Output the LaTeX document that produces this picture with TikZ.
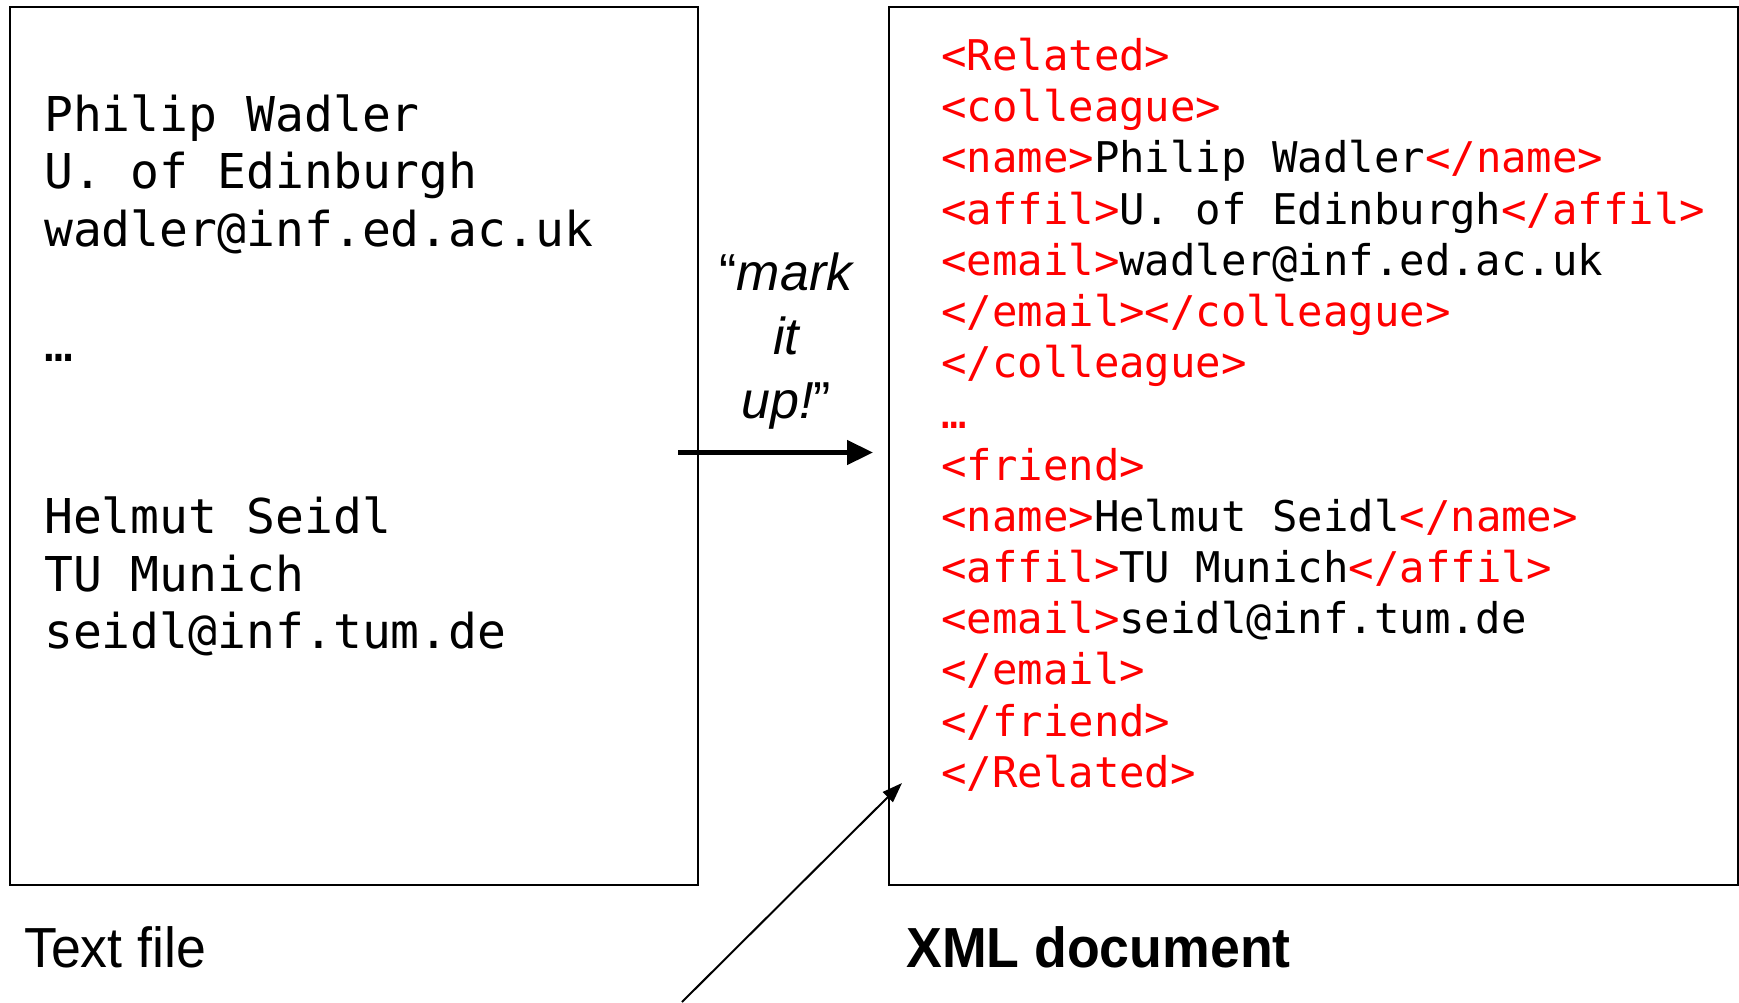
\documentclass[tikz,border=0pt]{standalone}
\usepackage{fontspec}
\setmainfont{Liberation Sans}
\newfontfamily\monofam{DejaVu Sans Mono}
\newfontfamily\labelfam[FakeStretch=0.95]{Liberation Sans}
\usetikzlibrary{arrows.meta}
\newcommand\tg[1]{\textcolor{red}{#1}}
\tikzset{
  box/.style={draw, line width=2pt, inner sep=0pt, anchor=north west},
  plainline/.style={anchor=base west, inner sep=0pt, font=\monofam\fontsize{48}{57.5}\selectfont},
  xmlline/.style={anchor=base west, inner sep=0pt, font=\monofam\fontsize{42.3}{51.2}\selectfont},
  caption/.style={anchor=base west, inner sep=0pt, font=\labelfam\fontsize{56.5}{60}\selectfont},
}
\begin{document}
\begin{tikzpicture}[x=1pt,y=-1pt]
\useasboundingbox (0,0) rectangle (1739,1002);
% boxes
\node[box, minimum width=688pt, minimum height=878.5pt] (txt) at (9,5.5) {};
\node[box, minimum width=849pt, minimum height=878.5pt] (xml) at (888,5.5) {};
% left text
\node[plainline] (l1) at (44,131) {Philip Wadler};
\node[plainline] (l2) at (44,188.5) {U. of Edinburgh};
\node[plainline] (l3) at (44,246) {wadler@inf.ed.ac.uk};
\node[plainline] (l4) at (44,361) {…};
\node[plainline] (l5) at (44,533.5) {Helmut Seidl};
\node[plainline] (l6) at (44,591) {TU Munich};
\node[plainline] (l7) at (44,648.5) {seidl@inf.tum.de};
% right text
\foreach \t [count=\i from 0] in {
  {\tg{<Related>}},
  {\tg{<colleague>}},
  {\tg{<name>}Philip Wadler\tg{</name>}},
  {\tg{<affil>}U. of Edinburgh\tg{</affil>}},
  {\tg{<email>}wadler@inf.ed.ac.uk},
  {\tg{</email></colleague>}},
  {\tg{</colleague>}},
  {\tg{…}},
  {\tg{<friend>}},
  {\tg{<name>}Helmut Seidl\tg{</name>}},
  {\tg{<affil>}TU Munich\tg{</affil>}},
  {\tg{<email>}seidl@inf.tum.de},
  {\tg{</email>}},
  {\tg{</friend>}},
  {\tg{</Related>}}}
  \node[xmlline] (x\i) at (941,70.5+\i*51.2) {\t};
% mark it up
\node[align=center, inner sep=0pt, font=\itshape\fontsize{52}{64}\selectfont] (mark) at (786,341) {{\upshape“}mark\\it\\up!{\upshape”}};
% arrows
\coordinate (a1) at (678,452.5);
\coordinate (a2) at (873,452.5);
\draw[line width=4.5pt, -{Triangle[length=26pt,width=24pt]}] (a1) -- (a2);
\coordinate (b1) at (682,1002);
\coordinate (b2) at (902,783);
\draw[line width=2pt, -{Triangle[length=20pt,width=14pt]}] (b1) -- (b2);
% captions
\node[caption] (cap1) at (24,967) {Text file};
\node[caption, font=\labelfam\bfseries\fontsize{56.5}{60}\selectfont] (cap2) at (906,967) {XML document};
\end{tikzpicture}
\end{document}
